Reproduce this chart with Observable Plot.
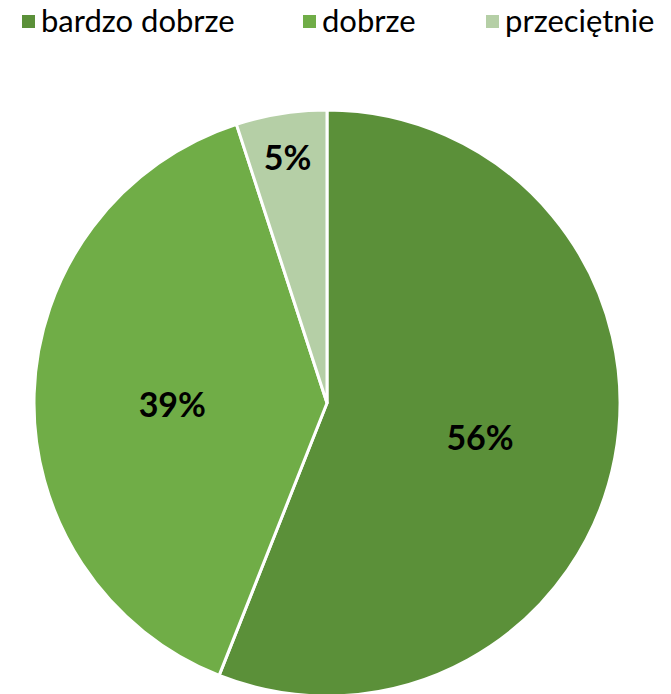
<!DOCTYPE html>
<html>
<head>
<meta charset="utf-8">
<script src="https://cdn.jsdelivr.net/npm/d3@7"></script>
<script src="https://cdn.jsdelivr.net/npm/@observablehq/plot@0.6"></script>
<style>
  html, body { margin: 0; padding: 0; background: #fff; }
  body { width: 671px; height: 694px; overflow: hidden; font-family: Lato, "Open Sans", sans-serif; }
  #legend { height: 60px; position: relative; }
  .item { position: absolute; top: 0px; display: flex; align-items: center; font-size: 31px; line-height: 40px; color: #000; }
  .sw { width: 13px; height: 13px; margin-right: 6px; margin-top: 2px; }
</style>
</head>
<body>
<div id="legend"></div>
<div id="chart"></div>
<script>
const categories = ["bardzo dobrze", "dobrze", "przeciętnie"];
const values = [56, 39, 5];
const colors = ["#5B9039", "#70AD47", "#B5CFA6"];

const legendX = [22, 303, 486];
const legend = document.getElementById("legend");
categories.forEach((c, i) => {
  const d = document.createElement("div");
  d.className = "item";
  d.style.left = legendX[i] + "px";
  d.innerHTML = `<span class="sw" style="background:${colors[i]}"></span><span>${c}</span>`;
  legend.appendChild(d);
});

const data = categories.map((c, i) => ({category: c, value: values[i]}));
const arcs = d3.pie().sort(null).value(d => d.value)(data);
const total = d3.sum(values);
const labels = arcs.map(a => {
  const mid = (a.startAngle + a.endAngle) / 2;
  const rf = a.data.value / total < 0.1 ? 0.87 : 0.53;
  return {x: Math.sin(mid) * rf, y: Math.cos(mid) * rf, text: Math.round(a.data.value / total * 100) + "%"};
});

const W = 671, H = 634, R = 293, CX = 327, CY = 343;

const pieMark = (index, scales, vals, dims, context) => {
  const cx = scales.x(0), cy = scales.y(0);
  const r = scales.x(1) - scales.x(0);
  const arc = d3.arc().innerRadius(0).outerRadius(r);
  const g = d3.create("svg:g").attr("transform", `translate(${cx},${cy})`);
  g.selectAll("path").data(arcs).join("path")
    .attr("d", arc)
    .attr("fill", d => scales.color(d.data.category))
    .attr("stroke", "#fff")
    .attr("stroke-width", 3)
    .attr("stroke-linejoin", "round");
  return g.node();
};

const chart = Plot.plot({
  width: W, height: H,
  margin: 0,
  x: {domain: [-1, 1], range: [CX - R, CX + R], axis: null},
  y: {domain: [-1, 1], range: [CY + R, CY - R], axis: null},
  color: {domain: categories, range: colors},
  marks: [
    pieMark,
    Plot.text(labels, {x: "x", y: "y", text: "text", fontSize: 34, fontWeight: "bold", fill: "#000", fontFamily: "Lato, sans-serif", dy: 7})
  ]
});
chart.style.overflow = "visible";
document.getElementById("chart").appendChild(chart);
</script>
</body>
</html>
